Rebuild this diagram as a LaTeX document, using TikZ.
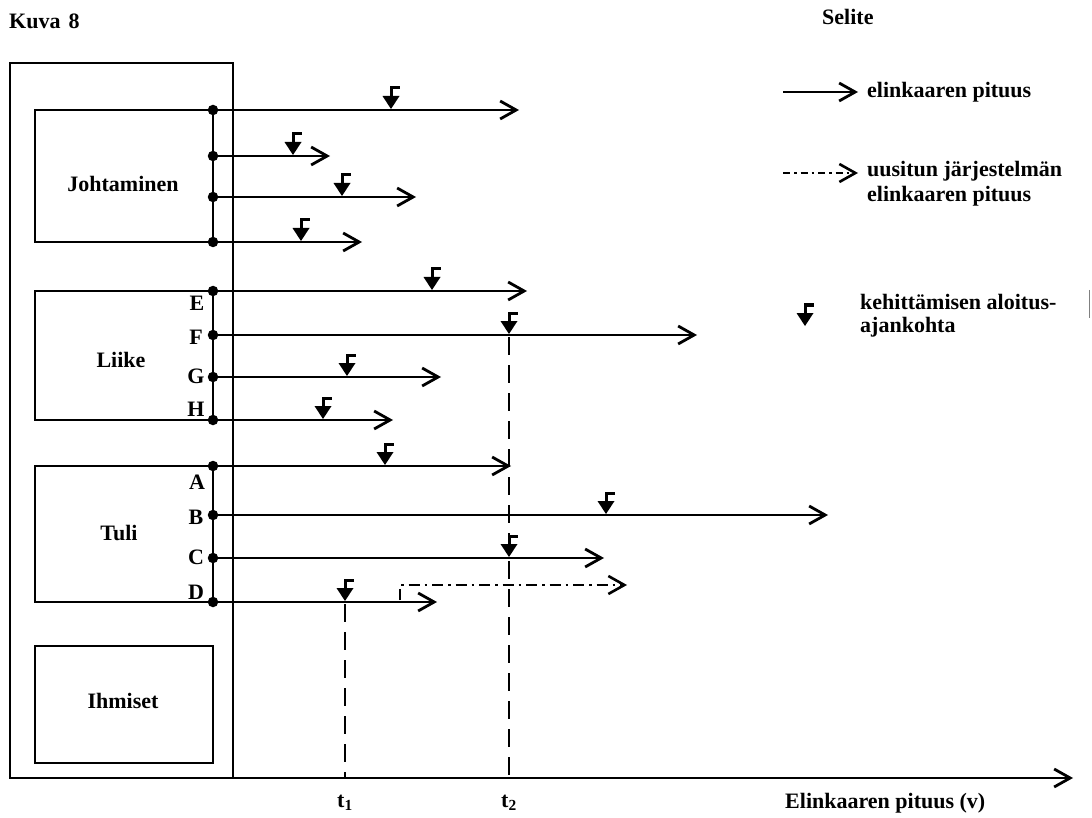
\documentclass[tikz,border=0pt]{standalone}
\usepackage{fontspec}
\setmainfont{Liberation Serif}
\usetikzlibrary{arrows.meta}
\begin{document}
\begin{tikzpicture}[x=1pt,y=-1pt,
  lbl/.style={font=\fontsize{22}{25}\selectfont\bfseries, inner sep=0pt},
  box/.style={draw, line width=2.2pt},
  life/.style={line width=2.8pt, -{Straight Barb[length=16pt,width=18pt]}},
  renew/.style={line width=2.6pt, dash pattern=on 11pt off 5pt on 2.5pt off 5pt, -{Straight Barb[length=16pt,width=18pt]}},
  guide/.style={line width=2.6pt, dash pattern=on 18pt off 10pt},
  dot/.style={circle, fill, inner sep=0pt, minimum size=10.5pt},
  mk/.pic={\fill (0,0)--(-8.5,-13)--(8.5,-13)--cycle; \draw[line width=3pt] (0,-11)--(0,-21)--(9,-21);}
]
\useasboundingbox (0,0) rectangle (1092,818);

% title and legend heading
\node[lbl, anchor=west] (kuva) at (9,21) {Kuva\hspace{8pt}8};
\node[lbl, anchor=west] (selite) at (822,17) {Selite};

% outer frame and axis
\coordinate (o1) at (10,63);
\coordinate (o2) at (233,778);
\draw[box] (o1) rectangle (o2);
\coordinate (ax0) at (10,778);
\coordinate (ax1) at (1073,778);
\draw[life] (ax0) -- (ax1);

% inner boxes
\draw[box] (35,110) rectangle (213,242);
\draw[box] (35,291) rectangle (213,420);
\draw[box] (35,466) rectangle (213,602);
\draw[box] (35,646) rectangle (213,763);
\node[lbl] (joh) at (123,184) {Johtaminen};
\node[lbl] (lii) at (121,360) {Liike};
\node[lbl] (tul) at (119,533) {Tuli};
\node[lbl] (ihm) at (123,701) {Ihmiset};

% Johtaminen dots
\node[dot] (j1) at (213,110) {};
\node[dot] (j2) at (213,156) {};
\node[dot] (j3) at (213,197) {};
\node[dot] (j4) at (213,242) {};
\coordinate (j1e) at (519,110);
\coordinate (j2e) at (330,156);
\coordinate (j3e) at (416,197);
\coordinate (j4e) at (362,242);
\draw[life] (j1.center) -- (j1e);
\draw[life] (j2.center) -- (j2e);
\draw[life] (j3.center) -- (j3e);
\draw[life] (j4.center) -- (j4e);
\pic at (391,109) {mk};
\pic at (293,155) {mk};
\pic at (342,196) {mk};
\pic at (301,241) {mk};

% Liike dots
\node[dot] (e) at (213,291) {};
\node[dot] (f) at (213,335) {};
\node[dot] (g) at (213,377) {};
\node[dot] (h) at (213,420) {};
\draw[line width=2.8pt] (e.center) -- (h.center);
\coordinate (ee) at (527,291);
\coordinate (fe) at (697,335);
\coordinate (ge) at (441,377);
\coordinate (he) at (393,420);
\draw[life] (e.center) -- (ee);
\draw[life] (f.center) -- (fe);
\draw[life] (g.center) -- (ge);
\draw[life] (h.center) -- (he);
\pic at (432,290) {mk};
\pic at (509,334) {mk};
\pic at (347,376) {mk};
\pic at (323,419) {mk};
\node[lbl] (le) at (197,303) {E};
\node[lbl] (lf) at (196,337) {F};
\node[lbl] (lg) at (196,376) {G};
\node[lbl] (lh) at (196,409) {H};

% Tuli dots
\node[dot] (a) at (213,466) {};
\node[dot] (b) at (213,515) {};
\node[dot] (c) at (213,558) {};
\node[dot] (d) at (213,602) {};
\draw[line width=2.8pt] (a.center) -- (d.center);
\coordinate (ae) at (511,466);
\coordinate (be) at (828,515);
\coordinate (ce) at (604,558);
\coordinate (de) at (437,602);
\draw[life] (a.center) -- (ae);
\draw[life] (b.center) -- (be);
\draw[life] (c.center) -- (ce);
\draw[life] (d.center) -- (de);
\pic at (385,465) {mk};
\pic at (606,514) {mk};
\pic at (509,557) {mk};
\pic at (345,601) {mk};
\node[lbl] (la) at (197,482) {A};
\node[lbl] (lb) at (196,517) {B};
\node[lbl] (lc) at (196,557) {C};
\node[lbl] (ld) at (196,592) {D};

% renewed system life
\coordinate (r0) at (400,600);
\coordinate (r1) at (400,585);
\coordinate (r2) at (627,585);
\draw[renew] (r0) -- (r1) -- (r2);

% time guides
\coordinate (t1top) at (345,604);
\coordinate (t1bot) at (345,778);
\coordinate (t2top) at (509,337);
\coordinate (t2bot) at (509,778);
\draw[guide] (t1top) -- (t1bot);
\draw[guide] (t2top) -- (t2bot);
\node[lbl] (t1) at (345,803) {t\textsubscript{1}};
\node[lbl] (t2) at (509,803) {t\textsubscript{2}};
\node[lbl, anchor=west] (axl) at (785,803) {Elinkaaren pituus (v)};

% legend
\coordinate (l1a) at (783,92);
\coordinate (l1b) at (858,92);
\draw[life] (l1a) -- (l1b);
\node[lbl, anchor=west] (l1t) at (867,92) {elinkaaren pituus};
\coordinate (l2a) at (783,173);
\coordinate (l2b) at (858,173);
\draw[renew, dash pattern=on 7pt off 4pt on 2.5pt off 4pt] (l2a) -- (l2b);
\node[lbl, anchor=west] (l2t) at (867,171) {uusitun järjestelmän};
\node[lbl, anchor=west] (l2u) at (867,196) {elinkaaren pituus};
\pic at (805,326) {mk};
\node[lbl, anchor=west] (l3t) at (860,302) {kehittämisen aloitus-};
\node[lbl, anchor=west] (l3u) at (860,327) {ajankohta};
\draw[gray, line width=1pt] (1089,290) -- (1089,318);
\end{tikzpicture}
\end{document}
